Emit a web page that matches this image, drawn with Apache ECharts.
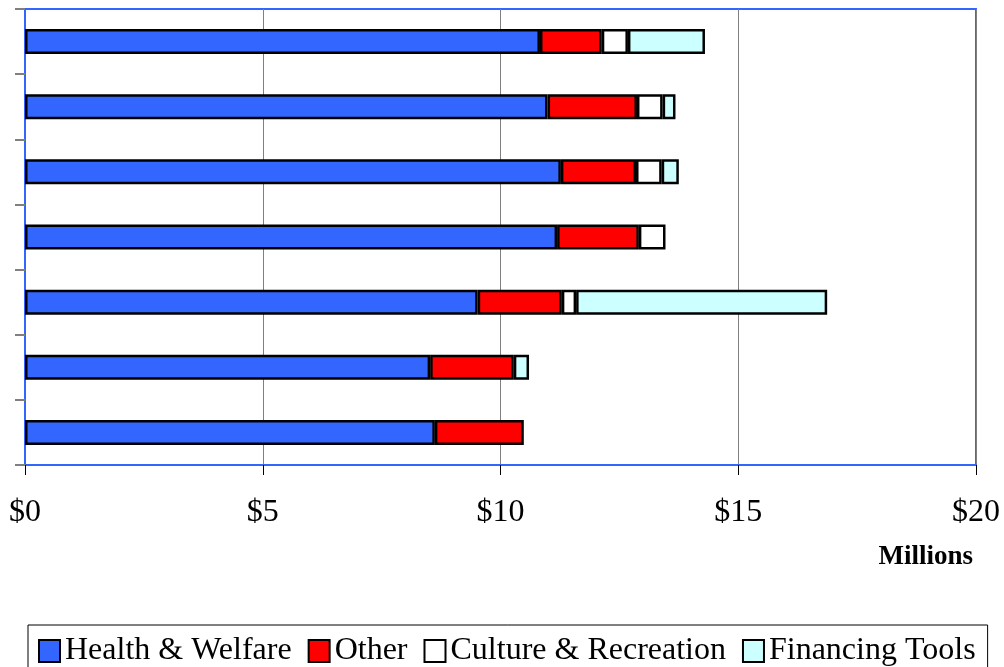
<!DOCTYPE html>
<html>
<head>
<meta charset="utf-8">
<script src="https://cdn.jsdelivr.net/npm/echarts@6/dist/echarts.min.js"></script>
<style>
html,body{margin:0;padding:0;background:#fff;}
#chart{width:1004px;height:667px;}
</style>
</head>
<body>
<div id="chart"></div>
<script>
// Categories (top to bottom); the original shows no category labels
const categories = ['1', '2', '3', '4', '5', '6', '7'];
// Values in $ millions
const healthWelfare = [10.83, 10.99, 11.27, 11.19, 9.52, 8.52, 8.62];
const other = [1.30, 1.88, 1.58, 1.72, 1.77, 1.76, 1.87];
const cultureRecreation = [0.55, 0.54, 0.54, 0.56, 0.30, null, null];
const financingTools = [1.62, 0.27, 0.36, null, 5.28, 0.32, null];
const seriesNames = ['Health & Welfare', 'Other', 'Culture & Recreation', 'Financing Tools'];
const xTicks = [0, 5, 10, 15, 20];

const colors = ['#3366FF', '#FF0000', '#FFFFFF', '#CCFFFF'];
const dataSets = [healthWelfare, other, cultureRecreation, financingTools];
const serif = '"Liberation Serif", "DejaVu Serif", serif';

const chart = echarts.init(document.getElementById('chart'));
chart.setOption({
  animation: false,
  backgroundColor: '#fff',
  grid: {
    left: 25, right: 28, top: 9, bottom: 202,
    show: true, borderColor: '#3366FF', borderWidth: 2, backgroundColor: 'transparent'
  },
  title: {
    text: 'Millions', right: 26, top: 539,
    textStyle: {fontFamily: serif, fontSize: 27, fontWeight: 'bold', color: '#000'}
  },
  legend: {
    data: seriesNames,
    left: 28, top: 625,
    padding: [10, 12, 10, 10],
    borderColor: '#000', borderWidth: 1,
    itemWidth: 21, itemHeight: 22, itemGap: 16,
    icon: 'rect',
    textStyle: {fontFamily: serif, fontSize: 32, color: '#000'}
  },
  xAxis: {
    type: 'value', min: xTicks[0], max: xTicks[xTicks.length - 1], interval: 5,
    axisLine: {show: true, lineStyle: {color: '#3366FF', width: 2}},
    axisTick: {show: true, length: 10, inside: false, lineStyle: {color: '#000'}},
    splitLine: {show: true, lineStyle: {color: '#808080', width: 1}},
    axisLabel: {formatter: '${value}', fontFamily: serif, fontSize: 32, color: '#000', margin: 32}
  },
  yAxis: {
    type: 'category', data: categories, inverse: true,
    axisLine: {show: true, lineStyle: {color: '#3366FF', width: 2}},
    axisTick: {show: true, length: 10, inside: false, lineStyle: {color: '#808080', width: 2}},
    axisLabel: {show: false},
    splitLine: {show: false}
  },
  series: seriesNames.map((name, i) => ({
    name: name,
    type: 'bar',
    stack: 'total',
    barWidth: 25,
    data: dataSets[i],
    itemStyle: {color: colors[i], borderColor: '#000', borderWidth: 2.5}
  }))
});
</script>
</body>
</html>
